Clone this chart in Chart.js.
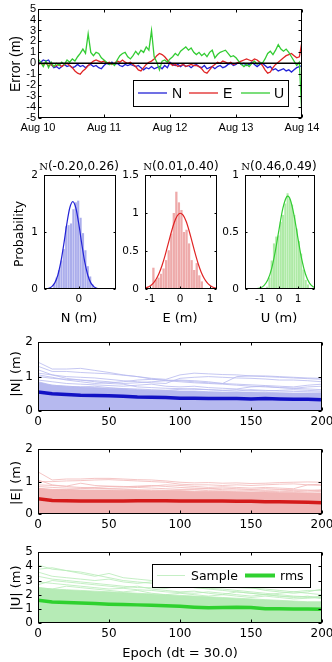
<!DOCTYPE html>
<html><head><meta charset="utf-8">
<script src="https://cdn.jsdelivr.net/npm/chart.js@4/dist/chart.umd.min.js"></script>
<style>
html,body{margin:0;padding:0;width:332px;height:662px;overflow:hidden;background:#fff;}
body{position:relative;}
canvas{position:absolute;}
.lbl{position:absolute;white-space:nowrap;color:#000;transform:translate(-50%,-50%);}
.rot{transform:translate(-50%,-50%) rotate(-90deg);}
</style></head><body>
<canvas id="cTop"></canvas>
<canvas id="cHN"></canvas>
<canvas id="cHE"></canvas>
<canvas id="cHU"></canvas>
<canvas id="cAN"></canvas>
<canvas id="cAE"></canvas>
<canvas id="cAU"></canvas>

<div class="lbl rot" style="left:15px;top:64px;font:14px 'Liberation Sans',Arial,sans-serif">Error (m)</div>
<div class="lbl rot" style="left:18px;top:234px;font:12.5px 'DejaVu Sans',sans-serif">Probability</div>
<div class="lbl" style="left:79px;top:166px;font:12px 'DejaVu Sans',sans-serif"><span style="font:10px 'DejaVu Serif',serif">N</span>(-0.20,0.26)</div>
<div class="lbl" style="left:181px;top:166px;font:12px 'DejaVu Sans',sans-serif"><span style="font:10px 'DejaVu Serif',serif">N</span>(0.01,0.40)</div>
<div class="lbl" style="left:279px;top:166px;font:12px 'DejaVu Sans',sans-serif"><span style="font:10px 'DejaVu Serif',serif">N</span>(0.46,0.49)</div>
<div class="lbl" style="left:79px;top:317px;font:13px 'DejaVu Sans',sans-serif">N (m)</div>
<div class="lbl" style="left:180px;top:317px;font:13px 'DejaVu Sans',sans-serif">E (m)</div>
<div class="lbl" style="left:279px;top:317px;font:13px 'DejaVu Sans',sans-serif">U (m)</div>
<div class="lbl rot" style="left:15px;top:374px;font:13px 'DejaVu Sans',sans-serif">|N| (m)</div>
<div class="lbl rot" style="left:15px;top:483px;font:13px 'DejaVu Sans',sans-serif">|E| (m)</div>
<div class="lbl rot" style="left:15px;top:588px;font:13px 'DejaVu Sans',sans-serif">|U| (m)</div>
<div class="lbl" style="left:180px;top:652px;font:13px 'DejaVu Sans',sans-serif">Epoch (dt = 30.0)</div>

<script>
// ---------------- DATA ----------------
const dayLabels = ['Aug 10','Aug 11','Aug 12','Aug 13','Aug 14'];
const dayTicks = [0,1,2,3,4];
const tStep = 0.04; // days between samples
const errN = [
 -0.1,0.1,0.3,0.2,0.3,-0.1,-0.4,-0.3,-0.5,-0.3,
 -0.1,-0.3,-0.2,-0.4,-0.3,-0.1,-0.3,-0.2,-0.4,-0.2,
 -0.1,-0.3,-0.2,-0.4,-0.5,-0.2,0.0,-0.1,0.1,-0.1,
 0.0,-0.2,-0.3,-0.1,-0.2,-0.1,-0.2,-0.3,-0.2,-0.4,
 -0.6,-0.4,-0.5,-0.3,-0.5,-0.4,-0.3,-0.5,-0.2,-0.4,
 0.1,-0.1,-0.2,-0.1,-0.3,-0.1,-0.3,-0.2,-0.4,-0.2,
 -0.1,-0.3,-0.4,-0.2,-0.5,-0.4,-0.3,-0.5,-0.3,-0.2,
 -0.4,-0.3,-0.1,0.0,-0.2,-0.1,0.1,-0.1,0.0,-0.2,
 -0.1,0.1,-0.1,-0.3,-0.1,0.0,-0.2,-0.4,-0.3,-0.6,
 -0.5,-0.7,-0.6,-0.5,-0.7,-0.6,-0.8,-0.6,-0.4,-0.3,
 -0.2];
const errE = [
 -0.1,0.0,-0.1,0.0,-0.2,-0.1,-0.3,-0.2,-0.1,-0.3,
 -0.1,0.0,-0.2,-0.4,-0.7,-0.9,-1.0,-0.7,-0.5,-0.2,
 0.0,0.2,0.3,0.2,0.1,0.2,0.0,0.1,-0.1,0.0,
 0.2,0.1,0.3,0.1,0.0,0.1,-0.1,-0.3,-0.6,-0.7,
 -0.4,-0.1,0.1,0.2,0.4,0.7,0.9,0.8,0.6,0.3,
 0.0,-0.2,-0.1,-0.3,-0.2,-0.1,-0.3,-0.2,-0.1,-0.2,
 -0.2,-0.3,-0.5,-0.8,-0.9,-0.6,-0.3,-0.1,0.1,0.0,
 0.2,0.1,0.0,0.1,-0.1,0.0,0.1,0.2,0.3,0.4,
 0.3,0.2,0.4,0.3,0.1,-0.2,-0.6,-0.9,-0.8,-0.4,
 -0.1,0.1,0.3,0.5,0.7,0.8,0.9,0.7,0.5,0.6,
 2.0];
const errU = [
 0.4,0.1,-0.3,0.2,-0.4,0.1,-0.3,0.0,-0.2,0.1,
 -0.1,0.3,0.1,0.4,0.2,0.6,0.9,1.3,0.9,2.7,
 1.0,0.7,1.0,0.9,0.5,0.3,0.1,-0.1,0.0,-0.2,
 0.3,0.7,0.9,1.0,0.6,0.4,0.7,1.1,0.8,1.2,
 1.0,1.5,1.2,3.0,0.6,0.1,-0.6,0.2,0.3,0.1,
 0.4,0.6,0.9,0.7,1.1,1.3,1.5,1.2,1.4,1.0,
 0.8,1.0,0.7,0.9,0.6,1.0,1.2,0.5,0.8,1.0,
 1.1,1.2,0.9,0.6,0.7,0.5,0.2,-0.1,-0.3,-0.1,
 -0.3,0.0,0.2,-0.1,0.1,0.0,0.4,0.9,1.1,0.8,
 1.2,1.7,1.3,1.1,1.3,1.0,0.6,0.2,-0.2,0.1,
 -5.0];

// histograms (bin centres, probability density) and fitted normal curves
const histNx = [-0.82,-0.74,-0.66,-0.58,-0.50,-0.42,-0.34,-0.26,-0.18,-0.10,-0.02,0.06,0.14,0.22,0.30,0.38,0.46];
const histNy = [0.08,0.20,0.33,0.50,0.70,1.10,1.12,1.15,1.40,1.52,1.55,1.25,0.98,0.68,0.40,0.22,0.08];
const histEx = [-0.89,-0.805,-0.72,-0.635,-0.55,-0.465,-0.38,-0.295,-0.21,-0.125,-0.04,0.045,0.13,0.215,0.30,0.385,0.47,0.555,0.64,0.725];
const histEy = [0.28,0.12,0.15,0.20,0.27,0.38,0.51,0.73,1.00,1.28,1.14,1.04,0.75,0.78,0.60,0.38,0.25,0.34,0.18,0.10];
const histUx = [-0.63,-0.51,-0.39,-0.27,-0.15,-0.03,0.09,0.21,0.33,0.45,0.57,0.69,0.81,0.93,1.05,1.17,1.29,1.41,1.53];
const histUy = [0.02,0.10,0.25,0.40,0.46,0.47,0.59,0.65,0.75,0.84,0.79,0.74,0.65,0.53,0.42,0.31,0.17,0.08,0.04];
const pdfNx = [-1.2,-1.1,-1.0,-0.9,-0.8,-0.7,-0.6,-0.5,-0.4,-0.3,-0.2,-0.1,0.0,0.1,0.2,0.3,0.4,0.5,0.6,0.7,0.8,0.9,1.0,1.1,1.2,1.3];
const pdfNy = [0.001,0.004,0.013,0.041,0.107,0.241,0.470,0.788,1.141,1.425,1.534,1.425,1.141,0.788,0.470,0.241,0.107,0.041,0.013,0.004,0.001,0,0,0,0,0];
const pdfEx = [-1.2,-1.1,-1.0,-0.9,-0.8,-0.7,-0.6,-0.5,-0.4,-0.3,-0.2,-0.1,0.0,0.1,0.2,0.3,0.4,0.5,0.6,0.7,0.8,0.9,1.0,1.1,1.2,1.3];
const pdfEy = [0.010,0.021,0.041,0.075,0.128,0.206,0.312,0.442,0.590,0.738,0.869,0.960,0.997,0.972,0.891,0.767,0.620,0.471,0.336,0.225,0.142,0.084,0.047,0.024,0.012,0.006];
const pdfUx = [-1.8,-1.6,-1.4,-1.2,-1.0,-0.8,-0.6,-0.4,-0.2,0.0,0.2,0.4,0.46,0.6,0.8,1.0,1.2,1.4,1.6,1.8,1.9];
const pdfUy = [0,0.0001,0.0006,0.0026,0.0096,0.030,0.078,0.175,0.329,0.524,0.707,0.808,0.814,0.781,0.640,0.444,0.260,0.129,0.054,0.019,0.011];

// epoch-wise absolute errors
const epochs = [0,10,20,30,40,50,60,70,80,90,100,110,120,130,140,150,160,170,180,190,200];
const rmsN = [0.55,0.50,0.48,0.46,0.45,0.44,0.43,0.41,0.40,0.39,0.37,0.37,0.36,0.36,0.36,0.35,0.36,0.35,0.34,0.34,0.33];
const bandN = [0.85,0.75,0.72,0.70,0.68,0.66,0.65,0.62,0.60,0.60,0.58,0.58,0.56,0.55,0.55,0.55,0.54,0.53,0.52,0.52,0.52];
const sampleN = [
 [1.42,1.22,1.22,1.24,1.18,1.12,1.05,1.00,0.93,0.88,0.85,0.82,0.80,0.78,0.75,0.72,0.70,0.68,0.66,0.64,0.62],
 [1.30,1.15,1.15,1.12,1.10,1.08,1.04,1.00,0.95,0.92,1.05,1.10,1.08,1.06,1.05,1.02,1.02,1.00,0.98,0.96,0.95],
 [1.10,1.05,1.00,0.98,0.96,0.92,0.88,0.85,0.82,0.80,0.95,0.98,1.00,0.98,0.96,0.95,0.93,0.90,0.90,0.88,0.85],
 [1.00,0.95,0.92,0.90,0.88,0.85,0.80,0.82,0.85,0.88,0.90,0.88,0.85,0.80,1.00,1.02,1.00,0.98,0.96,0.94,0.92],
 [0.90,0.85,0.80,0.78,0.76,0.74,0.72,0.75,0.78,0.72,0.70,0.72,0.68,0.66,0.64,0.70,0.72,0.68,0.66,0.70,0.72],
 [1.20,1.05,0.95,0.90,0.85,0.80,0.78,0.70,0.68,0.66,0.65,0.63,0.62,0.60,0.62,0.60,0.58,0.60,0.62,0.60,0.58],
 [0.80,0.75,0.72,0.70,0.72,0.68,0.65,0.64,0.62,0.60,0.63,0.65,0.62,0.60,0.58,0.62,0.60,0.58,0.57,0.56,0.55],
 [1.05,0.98,0.90,0.85,0.80,0.82,0.85,0.90,0.92,0.90,0.88,0.85,0.82,0.80,0.78,0.76,0.74,0.72,0.70,0.75,0.78]];
const rmsE = [0.47,0.42,0.41,0.40,0.40,0.40,0.40,0.41,0.41,0.41,0.40,0.40,0.40,0.40,0.39,0.39,0.38,0.38,0.37,0.36,0.35];
const bandE = [0.80,0.75,0.75,0.74,0.74,0.74,0.73,0.73,0.72,0.72,0.72,0.70,0.70,0.70,0.68,0.68,0.68,0.66,0.66,0.65,0.65];
const sampleE = [
 [1.30,1.05,1.08,1.08,1.10,1.10,1.08,1.06,1.05,1.02,0.98,0.96,0.97,0.95,0.96,0.94,0.95,0.97,0.98,0.99,0.98],
 [1.00,1.00,1.02,1.03,1.05,1.06,1.04,1.02,1.00,0.98,0.92,0.90,0.90,0.88,0.90,0.88,0.90,0.92,0.93,0.90,0.88],
 [0.90,0.88,0.86,0.95,0.88,0.86,0.85,0.84,0.86,0.90,0.88,0.85,0.82,0.84,0.82,0.80,0.82,0.80,0.78,0.90,0.92],
 [0.85,0.82,0.80,0.80,0.82,0.85,0.84,0.86,0.88,0.85,0.82,0.80,0.78,0.80,0.78,0.76,0.78,0.76,0.75,0.74,0.72],
 [0.78,0.76,0.75,0.78,0.80,0.79,0.80,0.82,0.80,0.78,0.76,0.77,0.78,0.75,0.74,0.75,0.73,0.74,0.72,0.72,0.75],
 [1.05,0.90,0.85,0.82,0.80,0.78,0.76,0.75,0.74,0.73,0.74,0.75,0.72,0.71,0.70,0.72,0.70,0.69,0.70,0.68,0.70]];
const rmsU = [1.60,1.48,1.45,1.42,1.38,1.33,1.30,1.28,1.25,1.22,1.18,1.12,1.08,1.10,1.12,1.10,1.00,1.00,0.98,0.98,0.97];
const bandU = [2.50,2.40,2.35,2.30,2.25,2.20,2.15,2.10,2.05,2.00,1.95,1.90,1.85,1.80,1.75,1.70,1.65,1.60,1.55,1.50,1.50];
const sampleU = [
 [4.10,3.80,3.70,3.60,3.40,3.20,3.00,2.90,2.80,2.70,2.60,2.50,2.45,2.40,2.30,2.20,2.10,2.00,1.90,1.85,1.80],
 [3.80,3.90,3.70,3.50,3.30,3.50,3.20,3.10,3.00,2.90,2.80,2.70,2.60,2.60,2.50,2.45,2.40,2.30,2.20,2.10,2.00],
 [3.30,3.10,3.00,2.90,2.80,2.70,2.60,2.50,2.50,2.45,2.60,2.50,2.40,2.30,2.20,2.10,2.00,2.10,2.20,2.30,2.30],
 [2.90,2.80,2.70,2.60,2.50,2.40,2.45,2.35,2.30,2.20,2.15,2.10,2.20,2.10,2.00,1.90,2.00,1.90,1.85,1.80,1.90],
 [2.70,3.00,2.90,2.80,2.70,2.60,2.50,2.60,2.40,2.30,2.20,2.25,2.10,2.00,2.20,2.10,2.00,1.90,1.80,1.90,1.70],
 [3.60,3.30,3.20,3.10,3.00,3.10,2.90,2.80,2.90,2.70,3.10,2.90,2.80,2.70,2.60,2.50,2.30,2.20,2.10,2.20,2.40],
 [2.50,2.40,2.60,2.50,2.40,2.30,2.20,2.30,2.10,2.00,2.10,2.00,1.90,2.00,1.90,1.80,1.90,1.80,1.70,1.75,1.80]];

// ---------------- STYLE ----------------
const colN = '#2323d6', colE = '#e02424', colU = '#33cc33';
const barN = '#abaeec', barE = '#eeaaaa', barU = '#aeeaa6';
const lightN = '#b6b9ef', lightE = '#f1b6b6', lightU = '#b6ebb6';
const rmsColN = '#1212c4', rmsColE = '#d41a1a', rmsColU = '#2fd12f';

// ---------------- PLUGINS ----------------
const boxTicks = {
  id:'boxTicks',
  afterDatasetsDraw(chart, args, o){
    const {ctx, chartArea:a, scales:{x,y}} = chart;
    const L=Math.round(a.left)+0.5, R=Math.round(a.right)-0.5, T=Math.round(a.top)+0.5, B=Math.round(a.bottom)-0.5;
    const len=o.len||3;
    ctx.save();
    ctx.strokeStyle='#000'; ctx.lineWidth=1;
    ctx.beginPath();
    x.ticks.forEach(t=>{const p=Math.round(x.getPixelForValue(t.value))+0.5; ctx.moveTo(p,B); ctx.lineTo(p,B-len); ctx.moveTo(p,T); ctx.lineTo(p,T+len);});
    y.ticks.forEach(t=>{const p=Math.round(y.getPixelForValue(t.value))+0.5; ctx.moveTo(L,p); ctx.lineTo(L+len,p); ctx.moveTo(R,p); ctx.lineTo(R-len,p);});
    ctx.stroke();
    ctx.strokeRect(L,T,R-L,B-T);
    ctx.restore();
  }
};
const legendBox = {
  id:'legendBox',
  afterDraw(chart, args, o){
    if(!o || !o.items) return;
    const ctx=chart.ctx; const cy=o.y+o.h/2;
    ctx.save();
    ctx.fillStyle='#fff'; ctx.fillRect(o.x,o.y,o.w,o.h);
    ctx.strokeStyle='#000'; ctx.lineWidth=1; ctx.strokeRect(o.x+0.5,o.y+0.5,o.w,o.h);
    ctx.font=o.font; ctx.textBaseline='middle'; ctx.textAlign='left';
    o.items.forEach(it=>{
      ctx.strokeStyle=it.color; ctx.lineWidth=it.width; ctx.beginPath();
      ctx.moveTo(it.x0,cy); ctx.lineTo(it.x1,cy); ctx.stroke();
      ctx.fillStyle='#000'; ctx.fillText(it.label,it.tx,cy+1);
    });
    ctx.restore();
  }
};

function place(id,left,top,w,h){
  const c=document.getElementById(id);
  c.width=w; c.height=h; c.style.left=left+'px'; c.style.top=top+'px'; c.style.width=w+'px'; c.style.height=h+'px';
  return c;
}
function opts(o){
  return {
    responsive:false, animation:false, events:[],
    layout:{padding:{left:0,top:o.padTop,right:o.padRight,bottom:0}},
    plugins:{legend:{display:false}, tooltip:{enabled:false}, boxTicks:{len:o.len}, legendBox:o.legend||{}},
    scales:{
      x:{type:'linear', min:o.xmin, max:o.xmax, offset:false,
         grid:{display:false, drawTicks:false}, border:{display:false},
         afterBuildTicks:s=>{s.ticks=o.xTicks.map(v=>({value:v}));},
         afterFit:s=>{s.height=o.xh;},
         ticks:{font:o.font, color:'#000', padding:o.xpad, maxRotation:0, autoSkip:false,
                callback:o.xcb||(v=>String(v))}},
      y:{type:'linear', min:o.ymin, max:o.ymax,
         grid:{display:false, drawTicks:false}, border:{display:false},
         afterBuildTicks:s=>{s.ticks=o.yTicks.map(v=>({value:v}));},
         afterFit:s=>{s.width=o.yw;},
         ticks:{font:o.font, color:'#000', padding:o.ypad, autoSkip:false, callback:v=>String(v)}}
    }
  };
}
const xy = (xs,ys)=>xs.map((v,i)=>({x:v,y:ys[i]}));
const series = arr=>arr.map((v,i)=>({x:i*tStep,y:v}));

// ---------------- TOP TIME SERIES ----------------
new Chart(place('cTop',0,0,332,140),{
  type:'line',
  data:{datasets:[
    {data:[{x:0,y:0},{x:4,y:0}], borderColor:'#000', borderWidth:1.6, pointRadius:0},
    {data:series(errU), borderColor:colU, borderWidth:1.3, pointRadius:0},
    {data:series(errE), borderColor:colE, borderWidth:1.3, pointRadius:0},
    {data:series(errN), borderColor:colN, borderWidth:1.3, pointRadius:0}
  ]},
  options:opts({padTop:6,padRight:30,yw:38,xh:22,xmin:0,xmax:4,ymin:-5,ymax:5,
    xTicks:dayTicks, yTicks:[-5,-4,-3,-2,-1,0,1,2,3,4,5], xcb:v=>dayLabels[v],
    font:{family:"'Liberation Sans', Arial, sans-serif", size:11}, xpad:3, ypad:2, len:3,
    legend:{x:133,y:80,w:155,h:26,font:"14px 'Liberation Sans', Arial, sans-serif",
      items:[{label:'N',color:colN,width:1.3,x0:138,x1:167,tx:172},
             {label:'E',color:colE,width:1.3,x0:189,x1:218,tx:223},
             {label:'U',color:colU,width:1.3,x0:241,x1:270,tx:274}]}}),
  plugins:[boxTicks,legendBox]
});

// ---------------- HISTOGRAMS ----------------
function hist(id,left,w,yw,padRight,bx,by,px,py,bar,line,xmin,xmax,xTicks,ymax,yTicks){
  new Chart(place(id,left,160,w,150),{
    type:'bar',
    data:{datasets:[
      {type:'line', data:xy(px,py), borderColor:line, borderWidth:1.2, pointRadius:0, cubicInterpolationMode:'monotone'},
      {type:'bar', data:xy(bx,by), backgroundColor:bar, borderWidth:0, barPercentage:0.9, categoryPercentage:1}
    ]},
    options:opts({padTop:15,padRight:padRight,yw:yw,xh:21,xmin:xmin,xmax:xmax,ymin:0,ymax:ymax,
      xTicks:xTicks, yTicks:yTicks, font:{family:"'DejaVu Sans', sans-serif", size:10.5}, xpad:4, ypad:6, len:2}),
    plugins:[boxTicks]
  });
}
hist('cHN',14,112,30,10,histNx,histNy,pdfNx,pdfNy,barN,colN,-1.16,1.24,[0],2,[0,1,2]);
hist('cHE',120,105,25,8,histEx,histEy,pdfEx,pdfEy,barE,colE,-1.17,1.23,[-1,0,1],1.5,[0,0.5,1,1.5]);
hist('cHU',220,105,25,10,histUx,histUy,pdfUx,pdfUy,barU,colU,-1.8,1.9,[-1,0,1],1,[0,0.5,1]);

// ---------------- EPOCH PANELS ----------------
function epochPanel(id,top,h,xh,ymax,yTicks,rms,band,samples,light,rmsCol,legend){
  const ds=[{data:xy(epochs,rms), borderColor:rmsCol, borderWidth:3.5, pointRadius:0}];
  samples.forEach(s=>ds.push({data:xy(epochs,s), borderColor:light, borderWidth:0.8, pointRadius:0}));
  ds.push({data:xy(epochs,band), borderColor:light, backgroundColor:light, borderWidth:0.8, pointRadius:0, fill:'origin'});
  new Chart(place(id,0,top,350,h),{
    type:'line', data:{datasets:ds},
    options:opts({padTop:10,padRight:28,yw:38,xh:xh,xmin:0,xmax:200,ymin:0,ymax:ymax,
      xTicks:[0,50,100,150,200], yTicks:yTicks, font:{family:"'DejaVu Sans', sans-serif", size:12},
      xpad:4, ypad:5, len:3, legend:legend}),
    plugins:[boxTicks,legendBox]
  });
}
epochPanel('cAN',330,103,22,2,[0,1,2],rmsN,bandN,sampleN,lightN,rmsColN);
epochPanel('cAE',437,99,22,2,[0,1,2],rmsE,bandE,sampleE,lightE,rmsColE);
epochPanel('cAU',540,105,22,5,[0,1,2,3,4,5],rmsU,bandU,sampleU,lightU,rmsColU,
  {x:152,y:24,w:158,h:23,font:"12.5px 'DejaVu Sans', sans-serif",
   items:[{label:'Sample',color:lightU,width:0.8,x0:157,x1:185,tx:191},
          {label:'rms',color:rmsColU,width:4,x0:245,x1:275,tx:280}]});
</script>
</body></html>
